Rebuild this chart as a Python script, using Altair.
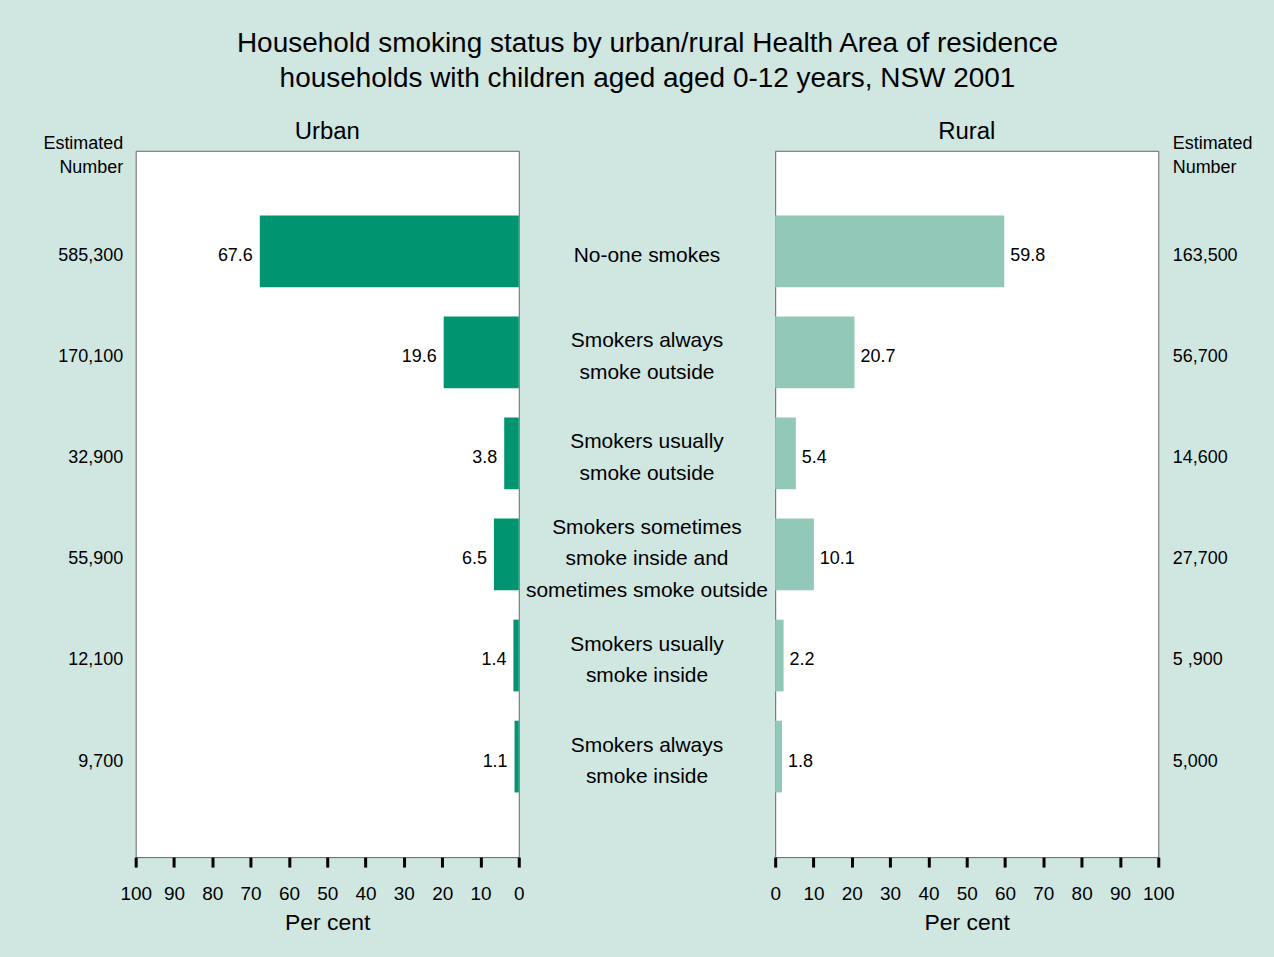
import altair as alt
import pandas as pd

categories = [
    "No-one smokes",
    "Smokers always\nsmoke outside",
    "Smokers usually\nsmoke outside",
    "Smokers sometimes\nsmoke inside and\nsometimes smoke outside",
    "Smokers usually\nsmoke inside",
    "Smokers always\nsmoke inside",
]
urban_pct = [67.6, 19.6, 3.8, 6.5, 1.4, 1.1]
rural_pct = [59.8, 20.7, 5.4, 10.1, 2.2, 1.8]
urban_num = ["585,300", "170,100", "32,900", "55,900", "12,100", "9,700"]
rural_num = ["163,500", "56,700", "14,600", "27,700", "5 ,900", "5,000"]
x_ticks = list(range(0, 101, 10))

BG = "#D0E6E0"
DARK = "#009470"
LIGHT = "#92C8B8"
FONT = "Liberation Sans"
PW, PH, MW = 384, 708, 257
LH = 32  # line height of the category labels
P_IN, P_OUT = 0.29, 0.64

# band geometry (to centre the multi-line label blocks on each band)
n = len(categories)
step = PH / (n - P_IN + 2 * P_OUT)
bw = step * (1 - P_IN)

df = pd.DataFrame({
    "cat": categories,
    "urban": urban_pct,
    "rural": rural_pct,
    "un": urban_num,
    "rn": rural_num,
})
df["off"] = [bw / 2 + 5 - c.count("\n") * LH / 2 for c in categories]

band = dict(paddingInner=P_IN, paddingOuter=P_OUT)

def xaxis():
    return alt.Axis(values=x_ticks, title="Per cent", grid=False, domain=False,
                    tickSize=10, tickWidth=3, tickColor="black",
                    labelFontSize=19, labelPadding=17, labelColor="black",
                    titleFontSize=23, titleFontWeight="normal", titleColor="black",
                    titlePadding=9, labelFlush=False, labelOverlap=False)

def yaxis(orient, pad, tx, align):
    return alt.Axis(orient=orient, title=["Estimated", "Number"], titleAngle=0,
                    titleAlign=align, titleX=tx, titleY=-16, titleBaseline="top",
                    titleFontSize=18, titleFontWeight="normal", titleColor="black",
                    titleLineHeight=24,
                    ticks=False, domain=False, grid=False, labelFontSize=18,
                    labelColor="black", labelPadding=pad, labelOffset=5)

def panel_title(txt):
    return alt.TitleParams(txt, fontSize=24, fontWeight="normal",
                           anchor="middle", color="black", offset=-9)

left_base = alt.Chart(df).encode(
    y=alt.Y("un:N", sort=urban_num, scale=alt.Scale(**band),
            axis=yaxis("left", 13, -13, "right")),
    x=alt.X("urban:Q", scale=alt.Scale(domain=[0, 100], reverse=True), axis=xaxis()),
)
left = alt.layer(
    left_base.mark_bar(color=DARK),
    left_base.mark_text(align="right", dx=-7, dy=5, fontSize=18, color="black").encode(
        text=alt.Text("urban:Q", format=".1f")),
).properties(width=PW, height=PH, title=panel_title("Urban"))

right_base = alt.Chart(df).encode(
    y=alt.Y("rn:N", sort=rural_num, scale=alt.Scale(**band),
            axis=yaxis("right", 14, 14, "left")),
    x=alt.X("rural:Q", scale=alt.Scale(domain=[0, 100]), axis=xaxis()),
)
right = alt.layer(
    right_base.mark_bar(color=LIGHT),
    right_base.mark_text(align="left", dx=6, dy=5, fontSize=18, color="black").encode(
        text=alt.Text("rural:Q", format=".1f")),
    right_base.mark_text(fontSize=21, lineBreak="\n", lineHeight=LH, align="center",
                         baseline="middle", color="black").encode(
        x=alt.value(-MW / 2), text="cat:N",
        yOffset=alt.YOffset("off:Q", scale=None)),
).properties(width=PW, height=PH, title=panel_title("Rural"))

chart = alt.hconcat(left, right, spacing=MW, bounds="flush").properties(
    title=alt.TitleParams(
        ["Household smoking status by urban/rural Health Area of residence",
         "households with children aged aged 0-12 years, NSW 2001"],
        fontSize=28, fontWeight="normal", anchor="middle", color="black",
        lineHeight=36, offset=26),
    padding={"left": 42, "top": 28, "right": 21, "bottom": 20},
).configure(font=FONT, background=BG).configure_view(
    fill="white", stroke="#666666", strokeWidth=1)

chart.save("out.html", embed_options={"renderer": "svg", "actions": False})
